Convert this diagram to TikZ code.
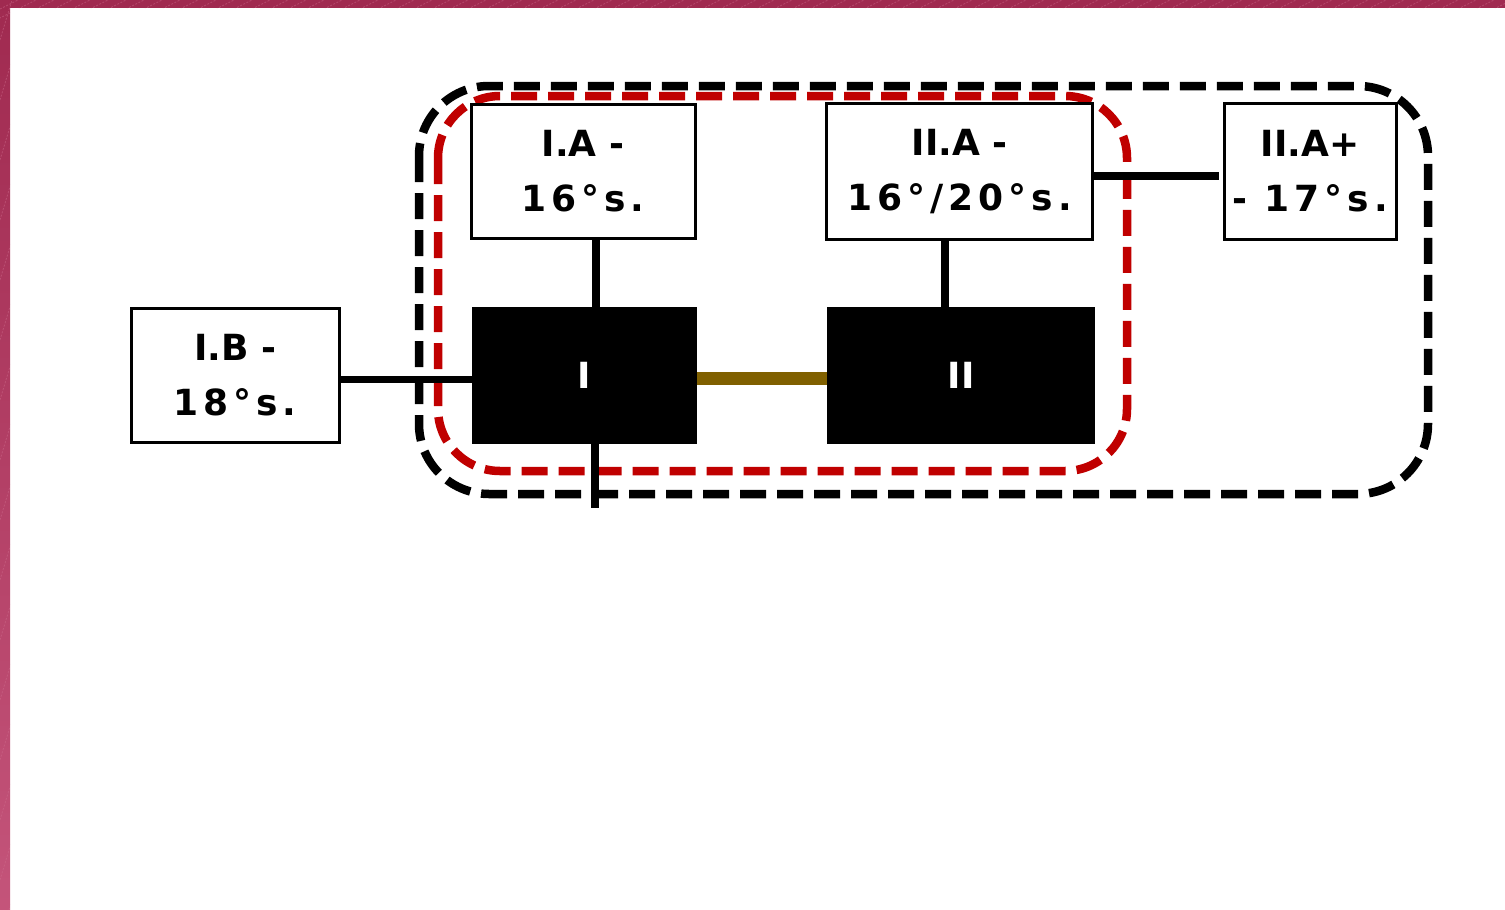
\documentclass[tikz,border=0pt]{standalone}
\usepackage{fontspec}
\newfontfamily\labfont{DejaVu Sans}
\newfontfamily\numfont{DejaVu Sans}[LetterSpace=14]
\definecolor{frameA}{HTML}{A02A50}
\definecolor{frameB}{HTML}{C4547A}
\definecolor{hatch}{HTML}{D07090}
\definecolor{dashred}{HTML}{C00000}
\definecolor{olive}{HTML}{806000}
\tikzset{
  lbox/.style={draw=black, line width=3pt, fill=white, inner sep=0pt, align=center,
    font=\labfont\bfseries\fontsize{36}{55}\selectfont},
  blkbox/.style={fill=black, inner sep=0pt, text=white,
    font=\labfont\bfseries\fontsize{36}{55}\selectfont},
  conn/.style={line width=8pt},
  groupline/.style={line width=8.5pt, dash pattern=on 26pt off 11pt, rounded corners=#1},
}
\begin{document}
\begin{tikzpicture}[x=1pt,y=-1pt]
\useasboundingbox (0,0) rectangle (1505,910);
\fill[white] (0,0) rectangle (1505,910);
\fill[frameA] (0,0) rectangle (1505,8);
\shade[top color=frameA, bottom color=frameB] (0,0) rectangle (10,910);
\begin{scope}
  \clip (0,0) rectangle (1505,8) (0,0) rectangle (10,910);
  \foreach \k in {0,18,...,1520} {
    \draw[hatch, line width=0.8pt, opacity=0.45, dash pattern=on 2pt off 1.5pt] (\k-40,20) -- (\k,0);
  }
  \foreach \k in {40,100,...,940} {
    \draw[hatch, line width=0.8pt, opacity=0.45, dash pattern=on 2pt off 1.5pt] (0,\k) -- (12,\k-40);
  }
\end{scope}

% group outlines
\draw[groupline=70pt, black] (419,86) rectangle (1428,494);
\draw[groupline=62pt, dashred] (438,96) rectangle (1127,471);

% nodes
\node[lbox, minimum width=224pt, minimum height=134pt] (IA) at (583,171.5) {I.A -\\{\numfont 16°s.}};
\node[lbox, minimum width=266pt, minimum height=136pt] (IIA) at (959.5,171.5) {II.A -\\{\numfont 16°/20°s.}};
\node[lbox, minimum width=172pt, minimum height=136pt] (IIAp) at (1310,171.5) {II.A+\\{\numfont - 17°s.}};
\node[lbox, minimum width=208pt, minimum height=134pt] (IB) at (235,375) {I.B -\\{\numfont 18°s.}};
\node[blkbox, minimum width=225pt, minimum height=137pt] (I) at (584.5,375.5) {I};
\node[blkbox, minimum width=268pt, minimum height=137pt] (II) at (961,375.5) {II};

\coordinate (Iend) at (595,508);

% connectors
\draw[conn] ([xshift=13pt]IA.south) -- ([xshift=13pt]IA.south |- I.north);
\draw[conn] ([xshift=-14.5pt]IIA.south) -- ([xshift=-14.5pt]IIA.south |- II.north);
\draw[conn] (Iend |- I.south) -- (Iend);
\draw[line width=7pt] ([yshift=-4pt]IB.east) -- ([yshift=-4pt]IB.east -| I.west);
\draw[line width=13pt, olive] ([yshift=-3pt]I.east) -- ([yshift=-3pt]I.east -| II.west);
\draw[conn] ([yshift=-4.5pt]IIA.east) -- ([xshift=-4pt,yshift=-4.5pt]IIAp.west);
\end{tikzpicture}
\end{document}
